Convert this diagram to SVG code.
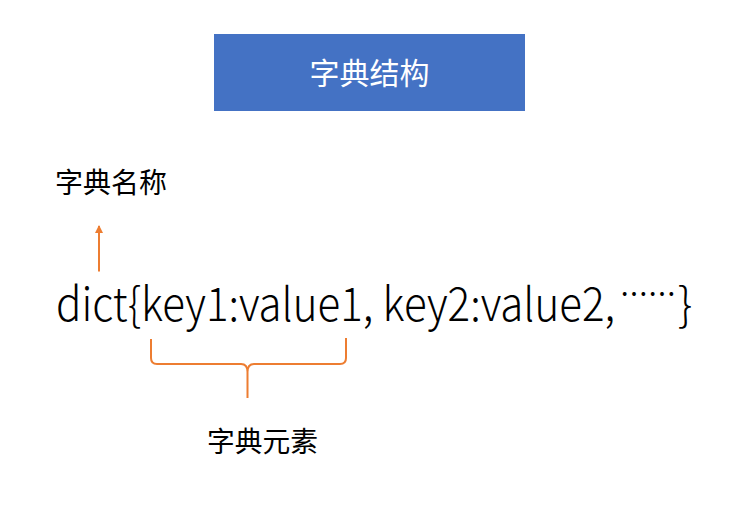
<svg xmlns="http://www.w3.org/2000/svg" width="739" height="524" viewBox="0 0 739 524">
<defs>
<style>
.t{font-family:"Noto Sans CJK SC","Microsoft YaHei",sans-serif;fill:#000;}
.l{font-weight:300;}
.c{fill:none;stroke:#ED7D31;stroke-width:2;}
</style>
<marker id="ah" markerWidth="8" markerHeight="8" refX="7" refY="4" orient="auto" markerUnits="userSpaceOnUse" viewBox="0 0 8 8">
<path d="M0,0 L8,4 L0,8 Z" fill="#ED7D31"/>
</marker>
</defs>
<rect width="739" height="524" fill="#fff"/>
<g id="title">
<rect x="214" y="34" width="311" height="77" fill="#4472C4"/>
<text class="t" x="369.5" y="84" font-size="30" text-anchor="middle" style="fill:#fff">字典结构</text>
</g>
<g id="name-label">
<text class="t" x="55" y="193" font-size="28" textLength="112" lengthAdjust="spacingAndGlyphs">字典名称</text>
</g>
<g id="dict-expr">
<text class="t l" x="56" y="321" font-size="46" textLength="559" lengthAdjust="spacingAndGlyphs">dict{key1:value1, key2:value2,</text>
<text class="t" x="620" y="305" font-size="30" textLength="56" lengthAdjust="spacingAndGlyphs">……</text>
<text class="t l" x="678" y="321" font-size="46">}</text>
</g>
<g id="element-label">
<text class="t" x="207" y="452" font-size="28" textLength="111" lengthAdjust="spacingAndGlyphs">字典元素</text>
</g>
<g id="connectors">
<path class="c" d="M99,271.5 L99,226" marker-end="url(#ah)"/>
<path class="c" d="M151,339 L151,358 Q151,364 157,364 L241,364 Q247.5,364 247.5,372 L247.5,398 M346,338 L346,358 Q346,364 340,364 L254,364 Q247.5,364 247.5,372"/>
</g>
</svg>
